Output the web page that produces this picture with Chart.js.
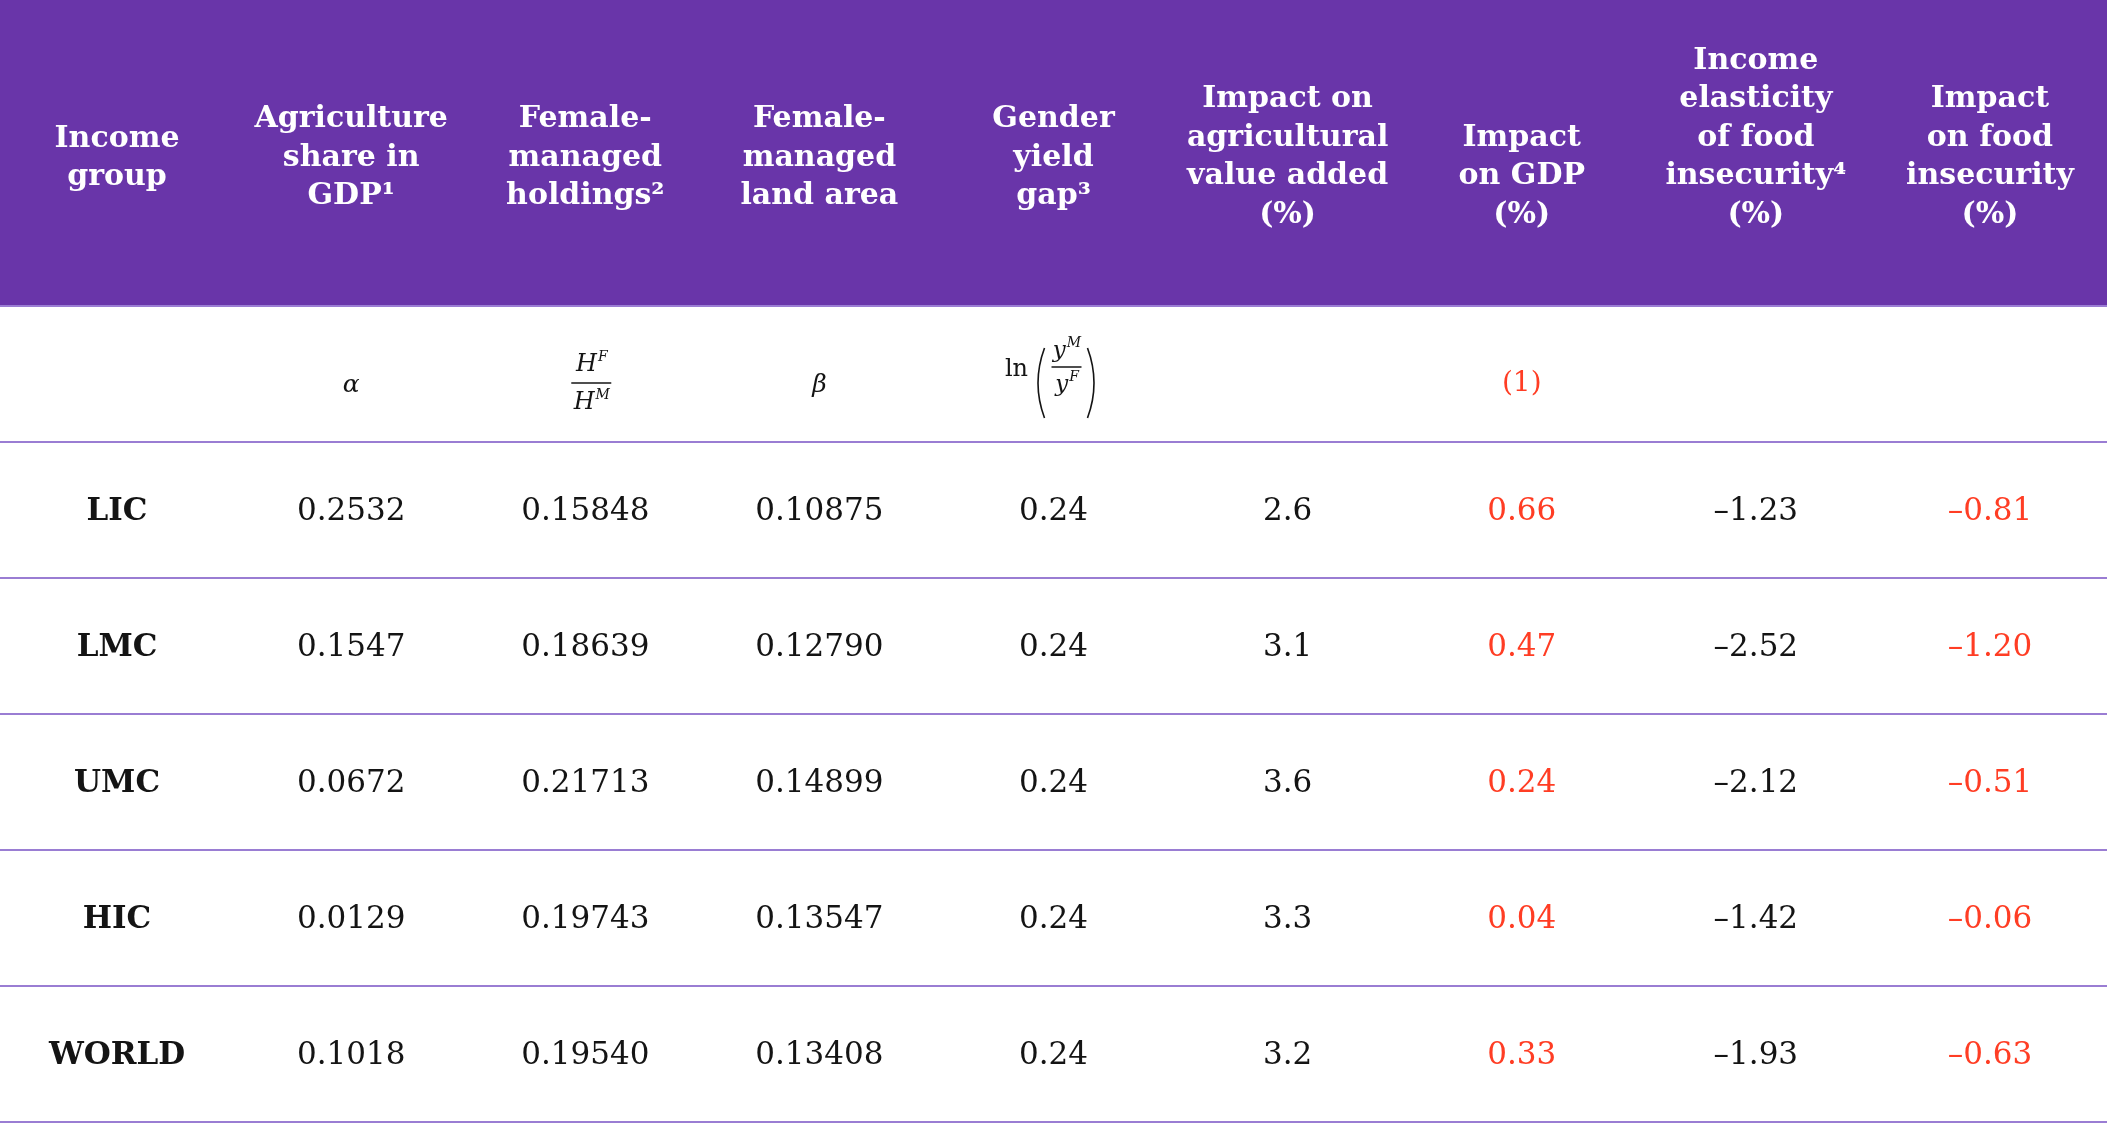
<!DOCTYPE html>
<html>
<head>
<meta charset="utf-8">
<title>Gender yield gap impact table</title>
<script src="https://cdn.jsdelivr.net/npm/chart.js@4.4.1/dist/chart.umd.min.js"></script>
<style>
    html, body { margin: 0; padding: 0; background: #ffffff; }
    #wrap { width: 2107px; height: 1124px; position: relative; }
</style>
</head>
<body>
<div id="wrap"><canvas id="table"></canvas></div>
<script>
// --- data -------------------------------------------------------------
const incomeGroups = ["LIC", "LMC", "UMC", "HIC", "WORLD"];
const agShare = [0.2532, 0.1547, 0.0672, 0.0129, 0.1018];
const femaleHoldings = [0.15848, 0.18639, 0.21713, 0.19743, 0.19540];
const femaleLand = [0.10875, 0.12790, 0.14899, 0.13547, 0.13408];
const yieldGap = [0.24, 0.24, 0.24, 0.24, 0.24];
const agValueImpact = [2.6, 3.1, 3.6, 3.3, 3.2];
const gdpImpact = [0.66, 0.47, 0.24, 0.04, 0.33];
const foodElasticity = [-1.23, -2.52, -2.12, -1.42, -1.93];
const foodImpact = [-0.81, -1.20, -0.51, -0.06, -0.63];

const columnKeys = ["group", "alpha", "holdings", "land", "gap", "agva", "gdp", "elasticity", "food"];
const headerLines = [
    ["Income", "group"],
    ["Agriculture", "share in", "GDP\u00b9"],
    ["Female-", "managed", "holdings\u00b2"],
    ["Female-", "managed", "land area"],
    ["Gender", "yield", "gap\u00b3"],
    ["Impact on", "agricultural", "value added", "(%)"],
    ["Impact", "on GDP", "(%)"],
    ["Income", "elasticity", "of food", "insecurity\u2074", "(%)"],
    ["Impact", "on food", "insecurity", "(%)"]
];
const symbolRow = ["", "alpha", "holdingsRatio", "beta", "lnYield", "", "eq1", "", ""];
const decimals = [0, 4, 5, 5, 2, 1, 2, 2, 2];
const redColumns = ["gdp", "food"];
const rowKeys = ["symbols", ...incomeGroups];

// --- look ---------------------------------------------------------------
const PURPLE = "#6935a9";
const RULE = "#9a7dd3";
const INK = "#141414";
const RED = "#ff3d24";
const SERIF = "\"DejaVu Serif\", \"Liberation Serif\", serif";

const columns = [incomeGroups, agShare, femaleHoldings, femaleLand, yieldGap,
    agValueImpact, gdpImpact, foodElasticity, foodImpact];

function formatCell(col, row) {
    if (col === 0) return incomeGroups[row];
    const v = columns[col][row];
    const s = Math.abs(v).toFixed(decimals[col]);
    return v < 0 ? "\u2013" + s : s;
}

const datasets = columnKeys.map((key, c) => ({
    label: key,
    data: rowKeys.map((r, i) => ({
        x: key,
        y: r,
        text: i === 0 ? symbolRow[c] : formatCell(c, i - 1)
    })),
    pointRadius: 0,
    showLine: false
}));

// --- math symbols in the second row -----------------------------------
function italic(size) { return "italic " + size + "px " + SERIF; }
function upright(size) { return size + "px " + SERIF; }

function withSup(ctx, base, sup, cx, baseY, size) {
    ctx.font = italic(size);
    const bw = ctx.measureText(base).width;
    ctx.font = italic(Math.round(size * 0.6));
    const sw = ctx.measureText(sup).width;
    const left = cx - (bw + sw) / 2;
    ctx.textAlign = "left";
    ctx.font = italic(size);
    ctx.fillText(base, left, baseY);
    ctx.font = italic(Math.round(size * 0.6));
    ctx.fillText(sup, left + bw + 1, baseY - size * 0.42);
}

function drawSymbol(ctx, kind, x, y) {
    ctx.save();
    ctx.fillStyle = INK;
    ctx.strokeStyle = INK;
    ctx.textBaseline = "alphabetic";
    ctx.textAlign = "center";
    if (kind === "alpha") {
        ctx.font = italic(25);
        ctx.fillText("\u03b1", x, y + 18);
    } else if (kind === "beta") {
        ctx.font = italic(25);
        ctx.fillText("\u03b2", x, y + 18);
    } else if (kind === "holdingsRatio") {
        const cx = x + 6;
        withSup(ctx, "H", "F", cx, y - 3, 24);
        ctx.lineWidth = 1.5;
        ctx.beginPath();
        ctx.moveTo(cx - 20, y + 9);
        ctx.lineTo(cx + 20, y + 9);
        ctx.stroke();
        withSup(ctx, "H", "M", cx, y + 35, 24);
    } else if (kind === "lnYield") {
        ctx.font = upright(24);
        ctx.fillText("ln", x - 37, y + 2);
        const fx = x + 13;
        withSup(ctx, "y", "M", fx, y - 17, 23);
        ctx.lineWidth = 1.5;
        ctx.beginPath();
        ctx.moveTo(fx - 15, y - 7);
        ctx.lineTo(fx + 15, y - 7);
        ctx.stroke();
        withSup(ctx, "y", "F", fx, y + 17, 23);
        ctx.lineWidth = 1.6;
        ctx.beginPath();
        ctx.moveTo(x - 9, y - 26);
        ctx.quadraticCurveTo(x - 22, y + 9, x - 9, y + 44);
        ctx.moveTo(x + 34, y - 26);
        ctx.quadraticCurveTo(x + 47, y + 9, x + 34, y + 44);
        ctx.stroke();
    } else if (kind === "eq1") {
        ctx.fillStyle = RED;
        ctx.font = upright(28);
        ctx.fillText("(1)", x, y + 17);
    }
    ctx.restore();
}

// --- plugin: header band, rules and cell text ---------------------------
const tablePlugin = {
    id: "tableCells",
    beforeDraw(chart) {
        const { ctx, chartArea, scales } = chart;
        const x = scales.x;
        const y = scales.y;
        ctx.save();
        ctx.fillStyle = PURPLE;
        ctx.fillRect(0, 0, chart.width, chartArea.top);

        // header titles
        ctx.fillStyle = "#ffffff";
        ctx.font = "bold 30px " + SERIF;
        ctx.textAlign = "center";
        ctx.textBaseline = "middle";
        const lh = 38.5;
        headerLines.forEach((lines, c) => {
            const cx = x.getPixelForValue(c);
            const n = lines.length;
            let first;
            if (lines[n - 1] === "(%)") {
                first = 215 - (n - 1) * lh;
            } else {
                first = 158 - (n - 1) * lh / 2;
            }
            lines.forEach((t, i) => ctx.fillText(t, cx, first + i * lh));
        });

        // horizontal rules between rows
        const band = y.getPixelForValue(1) - y.getPixelForValue(0);
        ctx.strokeStyle = RULE;
        ctx.lineWidth = 2;
        for (let i = 0; i <= rowKeys.length; i++) {
            const py = Math.round(y.getPixelForValue(i) - band / 2);
            ctx.beginPath();
            ctx.moveTo(0, py);
            ctx.lineTo(chart.width, py);
            ctx.stroke();
        }
        ctx.restore();
    },
    afterDatasetsDraw(chart) {
        const { ctx } = chart;
        chart.data.datasets.forEach((ds, c) => {
            const meta = chart.getDatasetMeta(c);
            meta.data.forEach((pt, i) => {
                const raw = ds.data[i];
                if (!raw.text) return;
                if (i === 0) {
                    drawSymbol(ctx, raw.text, pt.x, pt.y);
                    return;
                }
                ctx.save();
                ctx.textAlign = "center";
                ctx.textBaseline = "middle";
                ctx.font = (c === 0 ? "bold " : "") + "31px " + SERIF;
                ctx.fillStyle = redColumns.includes(columnKeys[c]) ? RED : INK;
                ctx.fillText(raw.text, pt.x, pt.y + 2);
                ctx.restore();
            });
        });
    }
};

new Chart(document.getElementById("table"), {
    type: "scatter",
    data: { datasets },
    options: {
        responsive: true,
        maintainAspectRatio: false,
        animation: false,
        events: [],
        layout: {
            padding: { top: 306, bottom: 2, left: 0, right: 0 }
        },
        plugins: {
            legend: { display: false },
            tooltip: { enabled: false }
        },
        scales: {
            x: {
                type: "category",
                labels: columnKeys,
                offset: true,
                display: false
            },
            y: {
                type: "category",
                labels: rowKeys,
                offset: true,
                display: false
            }
        }
    },
    plugins: [tablePlugin]
});
</script>
</body>
</html>
